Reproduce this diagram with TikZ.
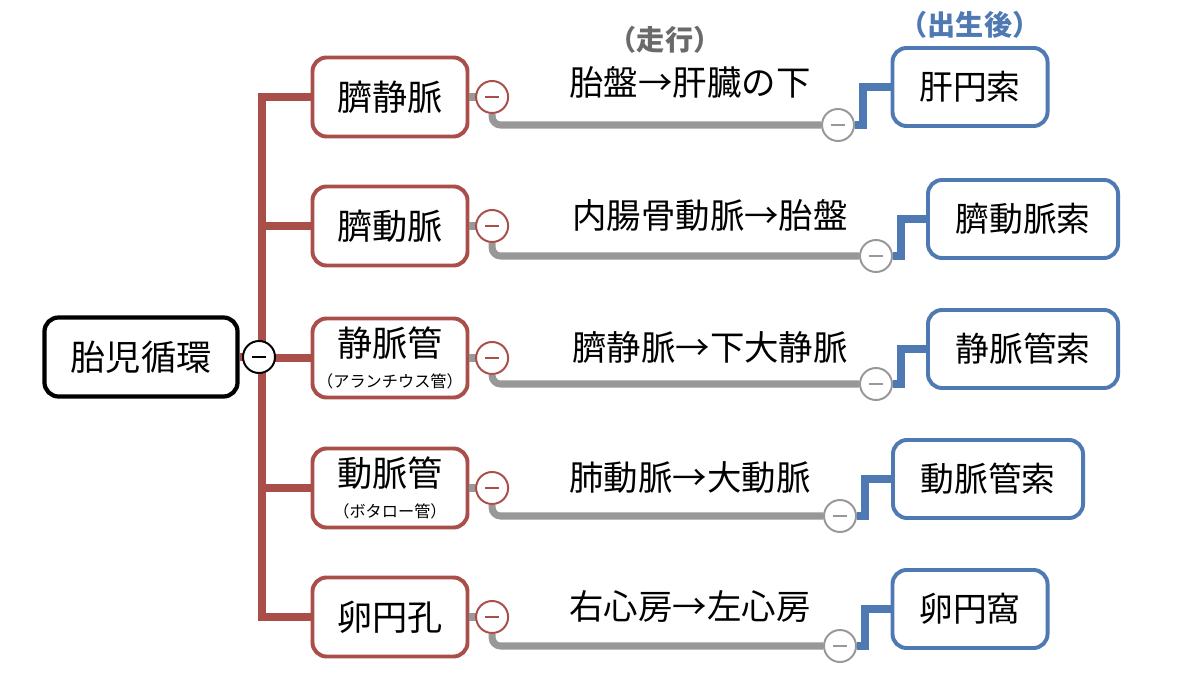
\documentclass[tikz,border=0pt]{standalone}
\usepackage{fontspec}
\setmainfont{Noto Sans CJK JP}
\usetikzlibrary{positioning, calc}
\definecolor{TrunkRed}{RGB}{170,78,74}
\definecolor{AfterBlue}{RGB}{78,121,178}
\definecolor{RouteGray}{RGB}{152,152,152}

\begin{document}
\begin{tikzpicture}[x=0.025cm, y=-0.025cm,
    rootbox/.style={draw=black, line width=3pt, rounded corners=10pt, fill=white,
      minimum width=4.825cm, minimum height=1.975cm, font=\fontsize{25}{30}\selectfont},
    fetalbox/.style={draw=TrunkRed, line width=2.8pt, rounded corners=10pt, fill=white,
      minimum width=3.875cm, minimum height=1.975cm, align=center, font=\fontsize{25}{30}\selectfont},
    afterbox/.style={draw=AfterBlue, line width=2.8pt, rounded corners=10pt, fill=white,
      minimum height=1.95cm, font=\fontsize{24}{28}\selectfont},
    fold/.style={circle, fill=white, line width=1.4pt, minimum size=0.8cm, inner sep=0pt,
      path picture={\draw[line width=1.4pt, #1] ($(path picture bounding box.center)+(-7,0)$) -- ($(path picture bounding box.center)+(7,0)$);}},
    trunk/.style={TrunkRed, line width=5.6pt},
    route/.style={RouteGray, line width=5pt, rounded corners=6pt},
    later/.style={AfterBlue, line width=5.6pt},
    runlabel/.style={font=\fontsize{24.5}{28}\selectfont}]
  \useasboundingbox (0,0) rectangle (1200,675);

  % root and first level
  \node[rootbox] (Root) at (141,357) {胎児循環};
  \node[fetalbox] (R1) at (390,97) {臍静脈};
  \node[fetalbox] (R2) at (390,226) {臍動脈};
  \node[fetalbox] (R3) at (390,358) {静脈管\\[-8pt]{\fontsize{11.5}{13}\selectfont （アランチウス管）}};
  \node[fetalbox] (R4) at (390,488) {動脈管\\[-8pt]{\fontsize{11.5}{13}\selectfont （ボタロー管）}};
  \node[fetalbox] (R5) at (390,617) {卵円孔};

  % after birth
  \node[afterbox, minimum width=3.875cm] (B1) at (970,87) {肝円索};
  \node[afterbox, minimum width=4.75cm] (B2) at (1023,219) {臍動脈索};
  \node[afterbox, minimum width=4.75cm] (B3) at (1023,349) {静脈管索};
  \node[afterbox, minimum width=4.75cm] (B4) at (988,479) {動脈管索};
  \node[afterbox, minimum width=3.875cm] (B5) at (970,609) {卵円窩};

  % headings
  \node[RouteGray!70!black, font=\bfseries\fontsize{20}{24}\selectfont] (RunHead) at (665,40) {（走行）};
  \node[AfterBlue, font=\bfseries\fontsize{20}{24}\selectfont] (AfterHead) at (970,25) {（出生後）};

  % trunk
  \draw[trunk] (Root.east) -- (259,357);
  \foreach \i in {1,...,5} {
    \draw[trunk] (R\i.west) -| (262,357);
  }
  \node[fold=black, draw=black] (C0) at (259,357) {};

  % routes
  \foreach \i/\gx/\gy/\lx/\ly/\run in {
      1/838/125/690/82/胎盤→肝臓の下,
      2/876/256/710/215/内腸骨動脈→胎盤,
      3/876/384/710/347/臍静脈→下大静脈,
      4/840/516/690/478/肺動脈→大動脈,
      5/840/646/690/607/右心房→左心房} {
    \draw[route] (R\i.east) -- ++(20,0);
    \node[fold=TrunkRed, draw=TrunkRed, right=4pt of R\i] (S\i) {};
    \node[fold=RouteGray, draw=RouteGray] (G\i) at (\gx,\gy) {};
    \draw[route] (S\i.south) |- (G\i.west);
    \draw[later] (G\i.east) -- ++(8,0) |- (B\i.west);
    \node[runlabel] (L\i) at (\lx,\ly) {\run};
  }
\end{tikzpicture}
\end{document}
